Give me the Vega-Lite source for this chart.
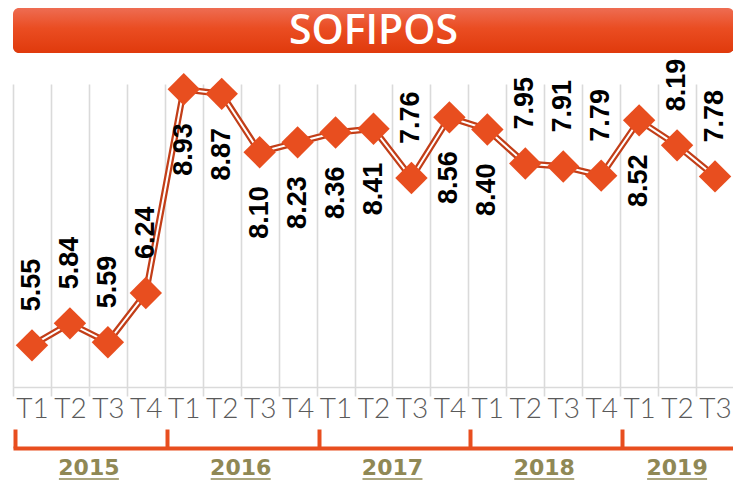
{
  "$schema": "https://vega.github.io/schema/vega-lite/v6.json",
  "background": "white",
  "padding": {"left": 12, "top": 8, "right": 0, "bottom": 4},
  "spacing": 31,
  "bounds": "flush",
  "config": {"view": {"stroke": null}},
  "vconcat": [
    {
      "width": 721,
      "height": 45,
      "data": {"values": [{"titulo": "SOFIPOS"}]},
      "layer": [
        {
          "mark": {"type": "rect", "color": "#000000", "opacity": 0.22, "cornerRadius": 6, "yOffset": 4},
          "encoding": {}
        },
        {
          "mark": {
            "type": "rect",
            "cornerRadius": 6,
            "color": {
              "gradient": "linear", "x1": 0, "y1": 0, "x2": 0, "y2": 1,
              "stops": [
                {"offset": 0, "color": "#EE6C52"},
                {"offset": 0.45, "color": "#EA4D22"},
                {"offset": 1, "color": "#E03A0C"}
              ]
            }
          },
          "encoding": {}
        },
        {
          "mark": {"type": "text", "color": "white", "font": "Open Sans", "fontSize": 41, "fontWeight": 600, "baseline": "middle", "align": "center", "dy": 1},
          "encoding": {"text": {"field": "titulo"}}
        }
      ]
    },
    {
      "width": 721,
      "height": 303,
      "data": {"values": [
        {"periodo": "2015-T1", "valor": 5.55},
        {"periodo": "2015-T2", "valor": 5.84},
        {"periodo": "2015-T3", "valor": 5.59},
        {"periodo": "2015-T4", "valor": 6.24},
        {"periodo": "2016-T1", "valor": 8.93},
        {"periodo": "2016-T2", "valor": 8.87},
        {"periodo": "2016-T3", "valor": 8.10},
        {"periodo": "2016-T4", "valor": 8.23},
        {"periodo": "2017-T1", "valor": 8.36},
        {"periodo": "2017-T2", "valor": 8.41},
        {"periodo": "2017-T3", "valor": 7.76},
        {"periodo": "2017-T4", "valor": 8.56},
        {"periodo": "2018-T1", "valor": 8.40},
        {"periodo": "2018-T2", "valor": 7.95},
        {"periodo": "2018-T3", "valor": 7.91},
        {"periodo": "2018-T4", "valor": 7.79},
        {"periodo": "2019-T1", "valor": 8.52},
        {"periodo": "2019-T2", "valor": 8.19},
        {"periodo": "2019-T3", "valor": 7.78}
      ]},
      "encoding": {
        "x": {
          "field": "periodo", "type": "ordinal", "sort": null,
          "scale": {"paddingInner": 0, "paddingOuter": 0},
          "axis": {
            "title": null, "tickBand": "extent", "grid": true, "gridColor": "#DADADA", "gridWidth": 1.6,
            "domain": true, "domainColor": "#DADADA", "domainWidth": 1.6,
            "ticks": true, "tickColor": "#DADADA", "tickWidth": 1.6, "tickSize": 9,
            "labelExpr": "split(datum.value, '-')[1]", "labelAngle": 0,
            "labelOverlap": false, "labelFlush": false, "labelBound": false,
            "labelFont": "Lato", "labelFontWeight": 300, "labelFontSize": 28, "labelColor": "#5A5A5A",
            "labelBaseline": "middle", "labelPadding": 13
          }
        },
        "y": {
          "field": "valor", "type": "quantitative",
          "scale": {"domain": [5, 9], "zero": false, "nice": false},
          "axis": null
        }
      },
      "layer": [
        {"mark": {"type": "line", "color": "#C23E18", "strokeWidth": 6.5}},
        {"mark": {"type": "line", "color": "white", "strokeWidth": 2}},
        {"mark": {"type": "point", "shape": "diamond", "filled": true, "size": 1050, "color": "#E84E1F", "opacity": 1}},
        {
          "transform": [{"filter": "indexof(['2016-T1','2016-T2','2016-T3','2016-T4','2017-T1','2017-T2','2017-T4','2018-T1','2019-T1'], datum.periodo) < 0"}],
          "mark": {"type": "text", "angle": 270, "align": "left", "baseline": "middle", "dx": 34, "font": "Liberation Sans", "fontWeight": "bold", "fontSize": 27, "color": "black"},
          "encoding": {"text": {"field": "valor", "type": "quantitative", "format": ".2f"}}
        },
        {
          "transform": [{"filter": "indexof(['2016-T1','2016-T2','2016-T3','2016-T4','2017-T1','2017-T2','2017-T4','2018-T1','2019-T1'], datum.periodo) >= 0"}],
          "mark": {"type": "text", "angle": 270, "align": "right", "baseline": "middle", "dx": -34, "font": "Liberation Sans", "fontWeight": "bold", "fontSize": 27, "color": "black"},
          "encoding": {"text": {"field": "valor", "type": "quantitative", "format": ".2f"}}
        }
      ]
    },
    {
      "width": 721,
      "height": 61,
      "data": {"values": [
        {"año": "2015", "trimestres": 4},
        {"año": "2016", "trimestres": 4},
        {"año": "2017", "trimestres": 4},
        {"año": "2018", "trimestres": 4},
        {"año": "2019", "trimestres": 3}
      ]},
      "transform": [
        {"window": [{"op": "sum", "field": "trimestres", "as": "fin"}], "frame": [null, 0]},
        {"calculate": "datum.fin - datum.trimestres / 2", "as": "medio"}
      ],
      "encoding": {
        "x": {
          "field": "medio", "type": "quantitative",
          "scale": {"domain": [0, 19], "zero": false, "nice": false},
          "axis": {
            "orient": "top", "offset": -30, "title": null, "grid": false, "labels": false,
            "values": [0, 4, 8, 12, 16], "tickOffset": 2,
            "domain": true, "domainColor": "#E84E1F", "domainWidth": 4,
            "ticks": true, "tickColor": "#E84E1F", "tickWidth": 4, "tickSize": 19
          }
        }
      },
      "layer": [
        {
          "mark": {"type": "text", "font": "DejaVu Sans", "fontWeight": "bold", "fontSize": 22, "color": "#8F8855", "baseline": "middle", "dy": 19},
          "encoding": {"text": {"field": "año"}}
        },
        {
          "mark": {"type": "rule", "color": "#8F8855", "strokeWidth": 1.6, "xOffset": -30, "x2Offset": 30},
          "encoding": {"x2": {"field": "medio"}, "y": {"value": "height"}}
        }
      ]
    }
  ]
}
